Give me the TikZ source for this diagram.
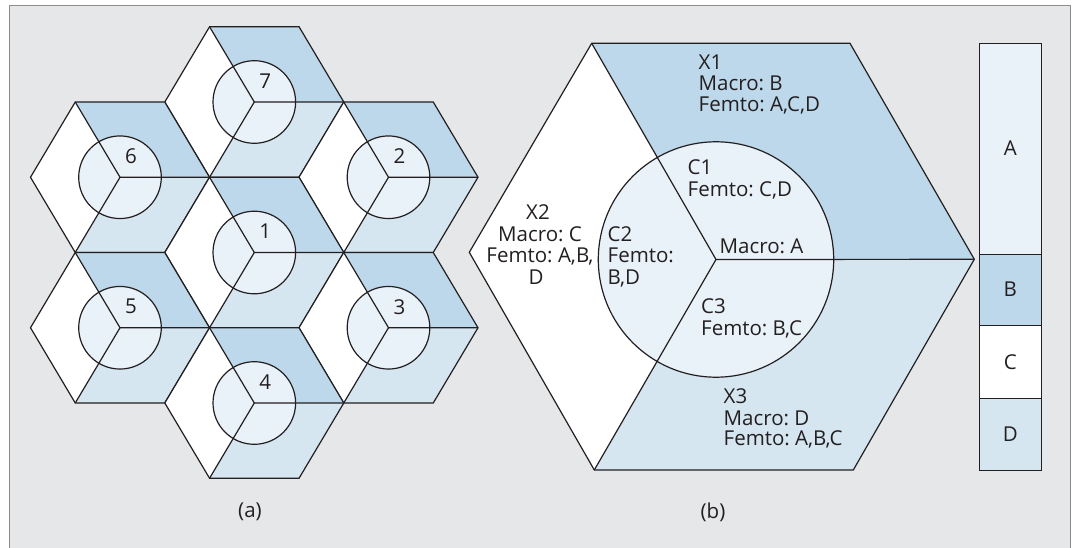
\documentclass[tikz,border=0pt]{standalone}
\usepackage{fontspec}
\setmainfont{Open Sans}
\frenchspacing
\definecolor{bgc}{HTML}{E6E7E9}
\definecolor{frc}{HTML}{8C8C8C}
\definecolor{cA}{HTML}{EAF2F9}
\definecolor{cB}{HTML}{BCD8EA}
\definecolor{cD}{HTML}{D5E6F1}
\definecolor{ink}{HTML}{231F20}
\tikzset{
  edge/.style={draw=ink,line width=1.2pt,line join=miter},
  txt/.style={inner sep=0pt,text=ink,font=\fontsize{20.5}{21.2}\selectfont},
  wl/.style={txt,anchor=base west},
  cl/.style={txt,anchor=base},
}
\begin{document}
\begin{tikzpicture}[x=1pt,y=-1pt]
\useasboundingbox (0,0) rectangle (1077,548);
% frame
\fill[bgc] (9,6) rectangle (1070.7,548);
\draw[frc,line width=1pt] (9,548) -- (9,6) -- (1070.7,6) -- (1070.7,548);
% (a) hexagon cluster
\foreach \cx/\cy/\n in {254.3/102/7,120/177.25/6,388.5/177.25/2,254.3/252.5/1,120/327.75/5,388.5/327.75/3,254.3/403/4}{
  \begin{scope}[shift={(\cx,\cy)}]
    \fill[cB] (0,0) -- (-44.75,-75.25) -- (44.75,-75.25) -- (89.5,0) -- cycle;
    \fill[cD] (0,0) -- (89.5,0) -- (44.75,75.25) -- (-44.75,75.25) -- cycle;
    \fill[white] (0,0) -- (-44.75,75.25) -- (-89.5,0) -- (-44.75,-75.25) -- cycle;
    \draw[edge,fill=cA] (0,0) circle[radius=41.3pt];
    \draw[edge] (-44.75,-75.25) -- (0,0) -- (89.5,0);
    \draw[edge] (0,0) -- (-44.75,75.25);
    \draw[edge] (89.5,0) -- (44.75,-75.25) -- (-44.75,-75.25) -- (-89.5,0) -- (-44.75,75.25) -- (44.75,75.25) -- cycle;
  \end{scope}
  \node[txt,anchor=center] (n\n) at (\cx+11,\cy-21) {\n};
}
\node[txt] (capa) at (250,512) {(a)};
% (b) large hexagon
\coordinate (TL) at (591.7,43.3);
\coordinate (TR) at (850,43.3);
\coordinate (RV) at (974.3,259.3);
\coordinate (BR) at (853.3,470);
\coordinate (BL) at (594.3,470);
\coordinate (LV) at (469.3,252.3);
\coordinate (CC) at (716,259.5);
\fill[cB] (CC) -- (TL) -- (TR) -- (RV) -- cycle;
\fill[cD] (CC) -- (RV) -- (BR) -- (BL) -- cycle;
\fill[white] (CC) -- (BL) -- (LV) -- (TL) -- cycle;
\draw[edge,fill=cA] (CC) circle[radius=117.7pt];
\draw[edge] (TL) -- (CC) -- (RV);
\draw[edge] (CC) -- (BL);
\draw[edge] (TL) -- (TR) -- (RV) -- (BR) -- (BL) -- (LV) -- cycle;
% (b) texts
\node[wl] (x1a) at (698.5,69.5) {X1};
\node[wl] (x1b) at (698.5,90.7) {Macro: B};
\node[wl] (x1c) at (698.5,111.9) {Femto: A,C,D};
\node[wl] (c1a) at (687.5,175) {C1};
\node[wl] (c1b) at (687.5,196.5) {Femto: C,D};
\node[wl] (ma) at (719.5,253.3) {Macro: A};
\node[wl] (c2a) at (607.5,241.8) {C2};
\node[wl] (c2b) at (607.5,263) {Femto:};
\node[wl] (c2c) at (607.5,284.2) {B,D};
\node[cl] (x2a) at (538,220) {X2};
\node[cl] (x2b) at (540,241.8) {Macro: C};
\node[cl] (x2c) at (540,263) {Femto: A,B,};
\node[cl] (x2d) at (536,284.2) {D};
\node[wl] (c3a) at (701,313.3) {C3};
\node[wl] (c3b) at (701,335) {Femto: B,C};
\node[wl] (x3a) at (723.5,403.3) {X3};
\node[wl] (x3b) at (723.5,425) {Macro: D};
\node[wl] (x3c) at (723.5,445.7) {Femto: A,B,C};
\node[txt] (capb) at (713,512) {(b)};
% bar
\draw[edge,fill=cA] (979.3,43.3) rectangle (1041.3,254.3);
\draw[edge,fill=cB] (979.3,254.3) rectangle (1041.3,325.7);
\draw[edge,fill=white] (979.3,325.7) rectangle (1041.3,398.3);
\draw[edge,fill=cD] (979.3,398.3) rectangle (1041.3,470.7);
\node[txt] (la) at (1010.3,148.3) {A};
\node[txt] (lb) at (1010.3,289.3) {B};
\node[txt] (lc) at (1010.3,362.3) {C};
\node[txt] (ld) at (1010.3,434) {D};
\end{tikzpicture}
\end{document}
